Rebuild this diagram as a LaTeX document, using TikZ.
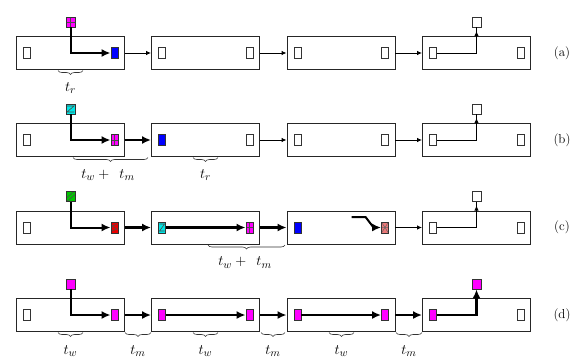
\documentclass[tikz,border=0pt]{standalone}
\usetikzlibrary{arrows.meta,calc,decorations.pathreplacing}
\definecolor{cellmag}{RGB}{255,0,255}
\definecolor{cellcyan}{RGB}{0,230,230}
\definecolor{cellblue}{RGB}{0,0,255}
\definecolor{cellgreen}{RGB}{0,200,0}
\definecolor{cellred}{RGB}{235,0,0}
\definecolor{cellpink}{RGB}{235,120,120}
\begin{document}
\begin{tikzpicture}[x=1pt,y=-1pt,
  bufbox/.style={draw=black!85,line width=0.9pt,minimum width=108pt,minimum height=33pt,inner sep=0pt},
  cell/.style={draw=black!80,line width=0.8pt,minimum width=7pt,minimum height=11pt,inner sep=0pt,fill=white},
  topcell/.style={cell,minimum width=9pt,minimum height=10pt},
  gridfill/.style={path picture={\draw[black!70,line width=0.6pt]
      (path picture bounding box.north)--(path picture bounding box.south)
      (path picture bounding box.west)--(path picture bounding box.east);}},
  diagfill/.style={path picture={\draw[black!70,line width=0.6pt]
      ($(path picture bounding box.south west)+(1,0)$)--($(path picture bounding box.north east)+(0,3)$)
      ($(path picture bounding box.south west)+(0,-3)$)--($(path picture bounding box.north east)+(-1,0)$);}},
  zfill/.style={path picture={\draw[black!70,line width=0.6pt]
      ($(path picture bounding box.north west)+(1,2)$)--($(path picture bounding box.north east)+(-1,2)$)
      --($(path picture bounding box.south west)+(1,-2)$)--($(path picture bounding box.south east)+(-1,-2)$);}},
  sfill/.style={path picture={\draw[black!70,line width=0.6pt]
      ($(path picture bounding box.north east)+(-1,2)$)--($(path picture bounding box.north west)+(1,4)$)
      --($(path picture bounding box.south east)+(-1,-4)$)--($(path picture bounding box.south west)+(1,-2)$);}},
  starfill/.style={path picture={\draw[black!60,line width=0.5pt]
      (path picture bounding box.north west)--(path picture bounding box.south east)
      (path picture bounding box.south west)--(path picture bounding box.north east)
      (path picture bounding box.west)--(path picture bounding box.east);}},
  link/.style={draw=black,line width=0.9pt,-{Latex[length=5pt,width=4.5pt]}},
  flow/.style={draw=black,line width=2.2pt,-{Latex[length=9pt,width=8pt]}},
  thinroute/.style={draw=black,line width=0.9pt},
  lbl/.style={font=\fontsize{13}{15}\selectfont},
  tlbl/.style={font=\fontsize{15}{17}\selectfont},
  brc/.style={decorate,decoration={brace,mirror,amplitude=4pt},line width=0.6pt,draw=black!80}
]
\fill[white] (0,0) rectangle (578,362);
\useasboundingbox (0,0) rectangle (578,362);

% four buffer stages per row, with the row tag on the right
\foreach \r/\y in {a/53,b/140,c/227.5,d/315}{
  \node[bufbox] (\r1) at (70.5,\y) {};
  \node[bufbox] (\r2) at (205.5,\y) {};
  \node[bufbox] (\r3) at (341,\y) {};
  \node[bufbox] (\r4) at (476.5,\y) {};
  \node[lbl] (\r tag) at (562,\y) {(\r)};
}

% ---------- row (a)
\node[cell] (a1L) at ($(a1.west)+(11,0)$) {};
\node[cell,fill=cellblue] (a1R) at ($(a1.east)+(-10.5,0)$) {};
\node[topcell,fill=cellmag,gridfill] (a1T) at ($(a1.center)+(0,-31)$) {};
\node[cell] (a2L) at ($(a2.west)+(11,0)$) {};
\node[cell] (a2R) at ($(a2.east)+(-10.5,0)$) {};
\node[cell] (a3L) at ($(a3.west)+(11,0)$) {};
\node[cell] (a3R) at ($(a3.east)+(-10.5,0)$) {};
\node[cell] (a4L) at ($(a4.west)+(11,0)$) {};
\node[cell] (a4R) at ($(a4.east)+(-10.5,0)$) {};
\node[topcell] (a4T) at ($(a4.center)+(0,-31)$) {};
\draw[flow,line width=2pt] (a1T.south) |- (a1R.west);
\draw[link] (a1.east) -- (a2.west);
\draw[link] (a2.east) -- (a3.west);
\draw[link] (a3.east) -- (a4.west);
\draw[thinroute] (a4L.east) -| (a4T.south);
\draw[link] (a4.center) -- ($(a4.north)+(0,-5)$);
\draw[brc] (58,70.5) -- (83,70.5);
\node[tlbl] (ta) at (70.5,88) {$t_r$};

% ---------- row (b)
\node[cell] (b1L) at ($(b1.west)+(11,0)$) {};
\node[cell,fill=cellmag,gridfill] (b1R) at ($(b1.east)+(-10.5,0)$) {};
\node[topcell,fill=cellcyan,zfill] (b1T) at ($(b1.center)+(0,-31)$) {};
\node[cell,fill=cellblue] (b2L) at ($(b2.west)+(11,0)$) {};
\node[cell] (b2R) at ($(b2.east)+(-10.5,0)$) {};
\node[cell] (b3L) at ($(b3.west)+(11,0)$) {};
\node[cell] (b3R) at ($(b3.east)+(-10.5,0)$) {};
\node[cell] (b4L) at ($(b4.west)+(11,0)$) {};
\node[cell] (b4R) at ($(b4.east)+(-10.5,0)$) {};
\node[topcell] (b4T) at ($(b4.center)+(0,-31)$) {};
\draw[flow,line width=2pt] (b1T.south) |- (b1R.west);
\draw[flow] (b1.east) -- (b2.west);
\draw[link] (b2.east) -- (b3.west);
\draw[link] (b3.east) -- (b4.west);
\draw[thinroute] (b4L.east) -| (b4T.south);
\draw[link] (b4.center) -- ($(b4.north)+(0,-5)$);
\draw[brc] (73,157.5) -- (148,157.5);
\node[tlbl] (tb1) at (108,175) {$t_w +\ \, t_m$};
\draw[brc] (193,157.5) -- (218,157.5);
\node[tlbl] (tb2) at (205.5,175) {$t_r$};

% ---------- row (c)
\node[cell] (c1L) at ($(c1.west)+(11,0)$) {};
\node[cell,fill=cellred,sfill] (c1R) at ($(c1.east)+(-10.5,0)$) {};
\node[topcell,fill=cellgreen,diagfill] (c1T) at ($(c1.center)+(0,-31)$) {};
\node[cell,fill=cellcyan,zfill] (c2L) at ($(c2.west)+(11,0)$) {};
\node[cell,fill=cellmag,gridfill] (c2R) at ($(c2.east)+(-10.5,0)$) {};
\node[cell,fill=cellblue] (c3L) at ($(c3.west)+(11,0)$) {};
\node[cell,fill=cellpink,starfill] (c3R) at ($(c3.east)+(-10.5,0)$) {};
\node[cell] (c4L) at ($(c4.west)+(11,0)$) {};
\node[cell] (c4R) at ($(c4.east)+(-10.5,0)$) {};
\node[topcell] (c4T) at ($(c4.center)+(0,-31)$) {};
\coordinate (c3s) at ($(c3R.west)+(-29.5,-10.5)$);
\draw[flow,line width=2pt] (c1T.south) |- (c1R.west);
\draw[flow] (c1.east) -- (c2.west);
\draw[flow] (c2L.east) -- (c2R.west);
\draw[flow] (c2.east) -- (c3.west);
\draw[flow,line width=2pt] (c3s) -- ++(14,0) -- ++(8,10.5) -- (c3R.west);
\draw[link] (c3.east) -- (c4.west);
\draw[thinroute] (c4L.east) -| (c4T.south);
\draw[link] (c4.center) -- ($(c4.north)+(0,-5)$);
\draw[brc] (208,245) -- (285,245);
\node[tlbl] (tc) at (245,262.5) {$t_w +\ \, t_m$};

% ---------- row (d)
\node[cell] (d1L) at ($(d1.west)+(11,0)$) {};
\node[cell,fill=cellmag] (d1R) at ($(d1.east)+(-10.5,0)$) {};
\node[topcell,fill=cellmag] (d1T) at ($(d1.center)+(0,-31)$) {};
\node[cell,fill=cellmag] (d2L) at ($(d2.west)+(11,0)$) {};
\node[cell,fill=cellmag] (d2R) at ($(d2.east)+(-10.5,0)$) {};
\node[cell,fill=cellmag] (d3L) at ($(d3.west)+(11,0)$) {};
\node[cell,fill=cellmag] (d3R) at ($(d3.east)+(-10.5,0)$) {};
\node[cell,fill=cellmag] (d4L) at ($(d4.west)+(11,0)$) {};
\node[cell] (d4R) at ($(d4.east)+(-10.5,0)$) {};
\node[topcell,fill=cellmag] (d4T) at ($(d4.center)+(0,-31)$) {};
\draw[flow,line width=2pt] (d1T.south) |- (d1R.west);
\draw[flow] (d1.east) -- (d2.west);
\draw[flow] (d2L.east) -- (d2R.west);
\draw[flow] (d2.east) -- (d3.west);
\draw[flow] (d3L.east) -- (d3R.west);
\draw[flow] (d3.east) -- (d4.west);
\draw[flow] (d4L.east) -| (d4T.south);
\foreach \a/\b/\t/\n in {58/83/w/1,125/151/m/2,193/218/w/3,261/285/m/4,329/354/w/5,396/422/m/6}{
  \draw[brc] (\a,332.5) -- (\b,332.5);
  \node[tlbl] (td\n) at ({(\a+\b)/2},351) {$t_\t$};
}
\end{tikzpicture}
\end{document}
